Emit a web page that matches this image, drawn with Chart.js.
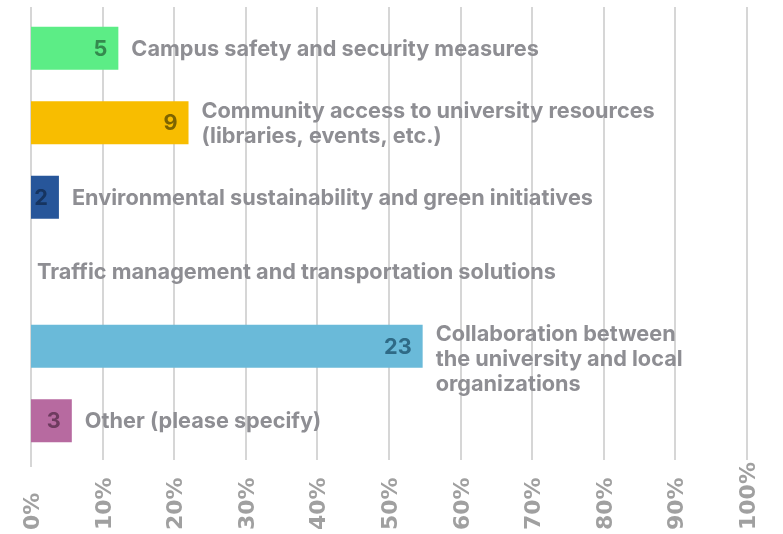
<!DOCTYPE html>
<html>
<head>
<meta charset="utf-8">
<script src="https://cdn.jsdelivr.net/npm/chart.js@4/dist/chart.umd.min.js"></script>
<style>
  html, body { margin: 0; padding: 0; background: #ffffff; }
  #chart { display: block; }
</style>
</head>
<body>
<canvas id="chart" width="783" height="534"></canvas>
<script>
// Survey answers (label lines, counts, and bar lengths in percent)
const categories = [
    ['Campus safety and security measures'],
    ['Community access to university resources', '(libraries, events, etc.)'],
    ['Environmental sustainability and green initiatives'],
    ['Traffic management and transportation solutions'],
    ['Collaboration between', 'the university and local', 'organizations'],
    ['Other (please specify)']
];
const counts = [5, 9, 2, 0, 23, 3];
const percents = [12.2, 22.0, 3.9, 0, 54.7, 5.7];
const xTicks = [0, 10, 20, 30, 40, 50, 60, 70, 80, 90, 100];

const barColors = ['#5ced86', '#f8bd00', '#27569a', '#cccccc', '#6abad9', '#b76aa0'];
const numColors = ['#348a4e', '#7d6400', '#163460', '#666666', '#2f6a86', '#6e3b5f'];

const labelFont = 'bold 21.7px Inter';
const textGray = '#8e8e93';

// light vertical grid lines, drawn behind the bars
const gridPlugin = {
    id: 'grid',
    beforeDatasetsDraw(chart) {
        const ctx = chart.ctx;
        const x = chart.scales.x;
        ctx.save();
        ctx.strokeStyle = '#d6d6d6';
        ctx.lineWidth = 2;
        xTicks.forEach(function(v) {
            const px = Math.round(x.getPixelForValue(v));
            ctx.beginPath();
            ctx.moveTo(px, 7);
            ctx.lineTo(px, v === 0 ? 467 : 460);
            ctx.stroke();
        });
        ctx.restore();
    }
};

// count inside the bar, answer text after it, rotated % labels underneath
const labelPlugin = {
    id: 'labels',
    afterDatasetsDraw(chart) {
        const ctx = chart.ctx;
        const x = chart.scales.x;
        const bars = chart.getDatasetMeta(0).data;
        ctx.save();
        ctx.font = labelFont;
        bars.forEach(function(bar, i) {
            const end = bar.x;
            const cy = bar.y;
            if (counts[i] > 0) {
                ctx.fillStyle = numColors[i];
                ctx.textAlign = 'right';
                ctx.textBaseline = 'middle';
                ctx.fillText(String(counts[i]), end - 11, cy + 1);
            }
            const lines = categories[i];
            const lh = 25;
            let y = cy - (lines.length > 1 ? lh / 2 : 0);
            ctx.fillStyle = textGray;
            ctx.textAlign = 'left';
            ctx.textBaseline = 'middle';
            const lx = counts[i] > 0 ? end + 13 : end + 6;
            lines.forEach(function(line) {
                ctx.fillText(line, lx, y + 1);
                y += lh;
            });
        });

        ctx.font = 'bold 22px "DejaVu Sans"';
        ctx.fillStyle = '#a0a0a0';
        ctx.textAlign = 'left';
        ctx.textBaseline = 'alphabetic';
        xTicks.forEach(function(v) {
            const px = x.getPixelForValue(v);
            ctx.save();
            ctx.translate(px, 530);
            ctx.rotate(-Math.PI / 2);
            ctx.fillText(v + '%', 0, 8);
            ctx.restore();
        });
        ctx.restore();
    }
};

window.onload = function() {
    const ctx = document.getElementById('chart').getContext('2d');
    new Chart(ctx, {
        type: 'bar',
        data: {
            labels: categories.map(function(l) { return l.join(' '); }),
            datasets: [{
                data: percents,
                backgroundColor: barColors,
                borderWidth: 0,
                categoryPercentage: 0.58,
                barPercentage: 1
            }]
        },
        options: {
            indexAxis: 'y',
            responsive: false,
            animation: false,
            layout: { padding: { left: 31, right: 36, top: 11, bottom: 76 } },
            plugins: {
                legend: { display: false },
                tooltip: { enabled: false }
            },
            scales: {
                x: { display: false, min: 0, max: 100 },
                y: { display: false }
            }
        },
        plugins: [gridPlugin, labelPlugin]
    });
};
</script>
</body>
</html>
